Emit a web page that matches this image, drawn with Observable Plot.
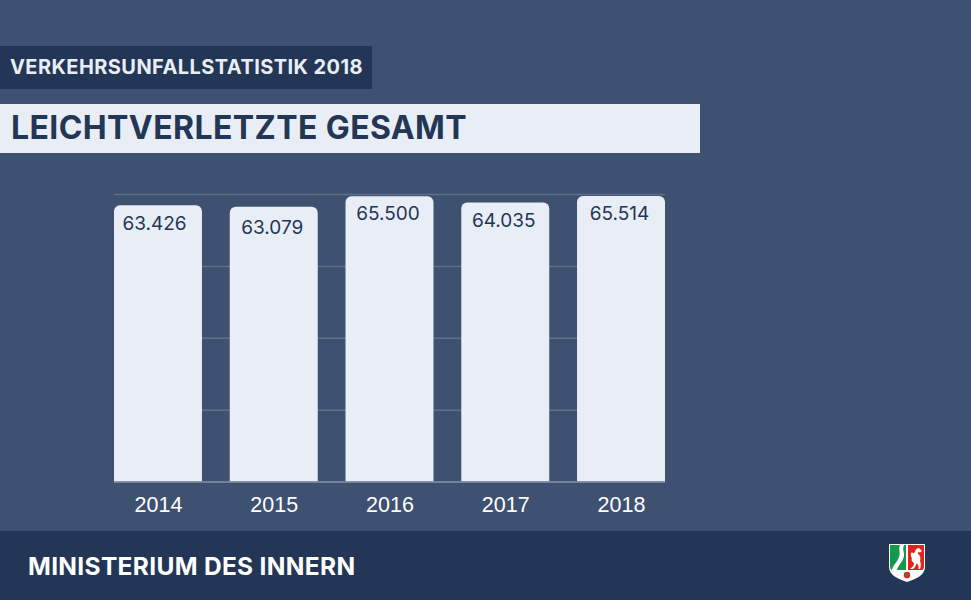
<!DOCTYPE html>
<html><head><meta charset="utf-8">
<script src="https://cdn.jsdelivr.net/npm/d3@7"></script>
<script src="https://cdn.jsdelivr.net/npm/@observablehq/plot@0.6"></script>
<style>
html,body{margin:0;padding:0;background:#3f5170;width:971px;height:600px;overflow:hidden}
#root{position:relative;width:971px;height:600px;background:#3f5170;overflow:hidden}
.t{position:absolute;left:0;box-sizing:border-box;white-space:nowrap;font-family:Inter,sans-serif}
#kicker{top:46px;width:372px;height:43px;line-height:43px;background:#233655;color:#e9eef6;font-size:20px;font-weight:700;letter-spacing:.43px;padding-left:10px}
#title{top:104px;width:700px;height:49px;line-height:47px;background:#e9eef6;color:#233655;font-size:32px;font-weight:700;letter-spacing:.4px;padding-left:11px}
#foot{top:531px;width:971px;height:69px;line-height:70px;background:#233655;color:#fff;font-size:24.5px;font-weight:700;letter-spacing:.32px;padding-left:28px}
#chart{position:absolute;left:0;top:170px}
#crest{position:absolute;left:888px;top:543px}
</style></head><body>
<div id="root">
<div class="t" id="kicker">VERKEHRSUNFALLSTATISTIK 2018</div>
<div class="t" id="title">LEICHTVERLETZTE GESAMT</div>
<div id="chart"></div>
<div class="t" id="foot">MINISTERIUM DES INNERN</div>
<svg id="crest" width="38" height="40" viewBox="0 0 38 40">
<path d="M1 1H37V24C37 32 28 36 19 39C10 36 1 32 1 24Z" fill="#fff"/>
<path d="M2 2H18V27H3.500C2.500 26 2 25 2 23Z" fill="#129a4a"/>
<path d="M20 2H36V23C36 25 35.500 26 34.500 27H20Z" fill="#e2231a"/>
<path d="M12 2C10 7 13 9 11 14C9.500 19 5 22 4 27H9C10 22 15 19 16 13C16.500 9 14 7 16 2Z" fill="#fff"/>
<path d="M22 26C24 24 26 23 26 20C24 19 23 17 24 15C22 13 23 10 24 9C25 11 26 10 27 9C27 7 29 5 31 5L34 8L32 9.500L30 9L30 11C32 12 33 15 32 18C33 20 33 23 32 26H30.500C31 23 30 21 28.500 20.500C28 23 26.500 25 25 26Z" fill="#fff"/>
<circle cx="19" cy="32" r="3.200" fill="#e2231a"/><circle cx="19" cy="32" r="1.300" fill="#129a4a"/>
</svg>
</div>
<script>
const years = ["2014","2015","2016","2017","2018"];
const values = [63426,63079,65500,64035,65514];
const labels = ["63.426","63.079","65.500","64.035","65.514"];
const gridTicks = [0,16500,33000,49500,66000];
const rows = years.map((year,i)=>({year,value:values[i],label:labels[i]}));
const light="#e9eef6", dark="#233655", grid="#5f708d";
const textMark = (data,dx,dy)=>Plot.text(data,{x:"year",y:"value",text:"label",dx,dy,fill:dark,fontSize:19,fontFamily:"Inter, sans-serif"});
const plot = Plot.plot({
  width:971,height:330,
  marginLeft:114,marginRight:306,marginTop:24,marginBottom:18.5,
  style:{background:"transparent",overflow:"visible"},
  x:{domain:years,paddingInner:0.24,paddingOuter:0,round:false,label:null},
  y:{domain:[0,66000],label:null,axis:null},
  marks:[
    Plot.gridY(gridTicks,{stroke:grid,strokeOpacity:1,strokeWidth:1.5}),
    Plot.barY(rows,{x:"year",y:"value",fill:light,rx1y1:6,rx2y1:6}),
    Plot.ruleY([0],{stroke:"#7e8ca5",strokeWidth:1.5}),
    textMark(rows.filter(d=>d.year==="2014"),-4,18),
    textMark(rows.filter(d=>d.year==="2015"),-2,20.500),
    textMark(rows.filter(d=>d.year==="2017"),-2,18),
    textMark(rows.filter(d=>["2016","2018"].includes(d.year)),-2,17.500),
    Plot.axisX({tickSize:0,tickPadding:15,fontSize:21.5,fill:"#ffffff",fontFamily:"Liberation Sans, Arial, sans-serif",label:null}),
  ]
});
document.getElementById("chart").appendChild(plot);
</script>
</body></html>
